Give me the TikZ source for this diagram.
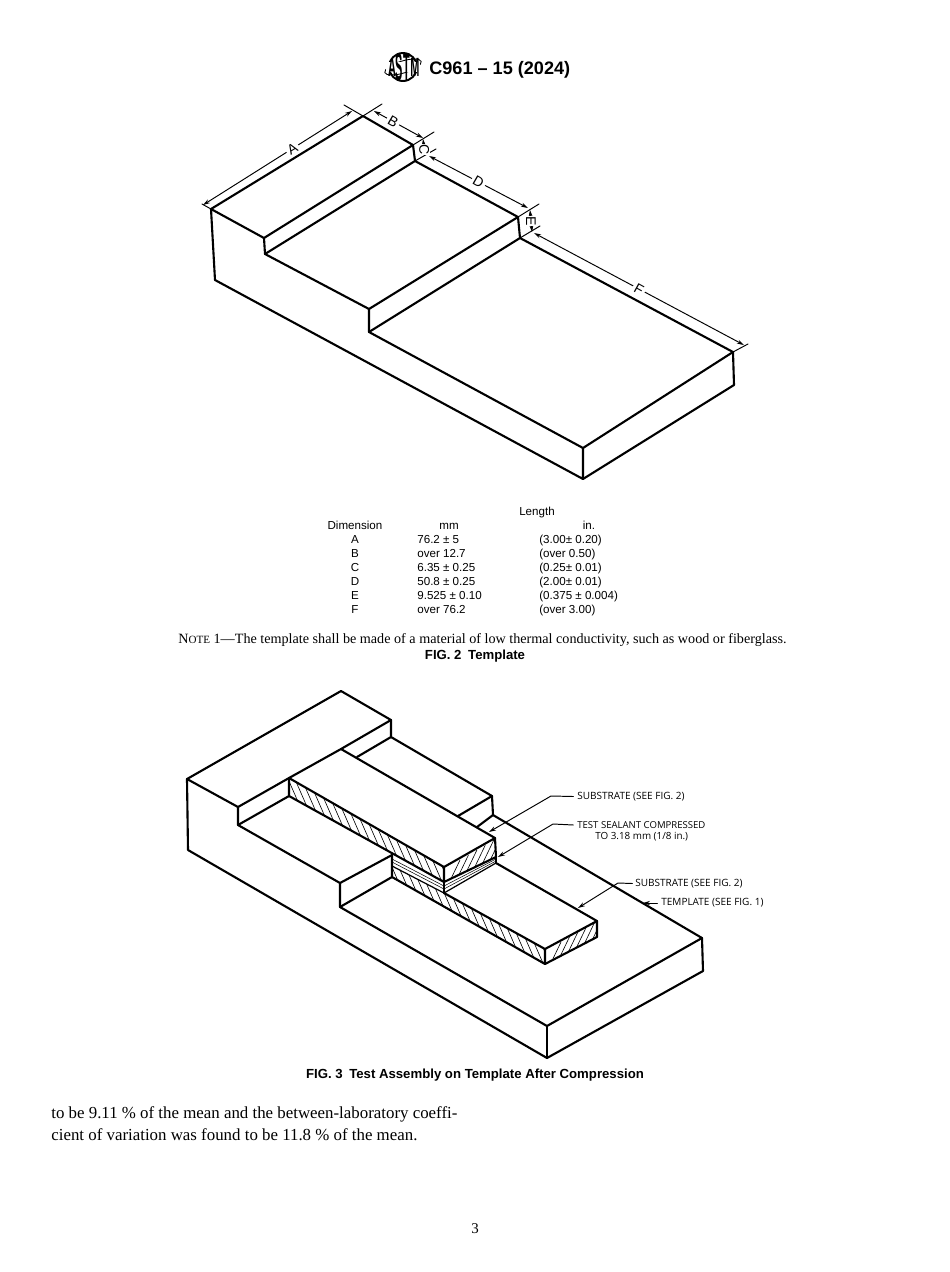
\documentclass[tikz,border=0pt]{standalone}
\usepackage{fontspec}
\setmainfont{Liberation Serif}
\setsansfont{Liberation Sans}
\newfontfamily\leaderfont{Open Sans}
\usetikzlibrary{calc,arrows.meta}
\tikzset{
	edge/.style={line width=1.2pt},
	dim/.style={line width=.55pt},
	tick/.style={line width=.55pt},
	hatch/.style={line width=.35pt},
	dimlabel/.style={fill=white,inner sep=1.2pt,font=\sffamily\fontsize{8}{8}\selectfont},
	cell/.style={inner sep=0pt,text height=5pt,text depth=1.2pt,font=\sffamily\fontsize{6.6}{7}\selectfont},
	leaderlabel/.style={inner sep=0pt,font=\leaderfont\fontsize{5.7}{7}\selectfont},
	caption/.style={inner sep=0pt,font=\sffamily\bfseries\fontsize{7.5}{8}\selectfont},
	body/.style={inner sep=0pt,anchor=west,font=\fontsize{9.6}{10}\selectfont},
}
\begin{document}
\begin{tikzpicture}[>={Stealth[length=4pt,width=2.4pt]},line join=round,line cap=round,x=.02cm,y=-.02cm]
	\useasboundingbox (0,0) rectangle (950,1272);
	\fill[white] (0,0) rectangle (950,1272);
	% header
	\draw[line width=.5pt,rotate around={17:(403,67)}] (403,67) ellipse (19 and 6);
	\draw[line width=1.1pt] (403,67) circle (14);
	\fill[white] (386,62) rectangle (420,72);
	\foreach \lettername/\lx/\ls in {A/392/1.5,S/399.5/2.2,T/407/2.2,M/415/1.5}{
		\node[inner sep=0pt,font=\sffamily\bfseries\fontsize{10}{10}\selectfont,xscale=.62,yscale=\ls] (logo\lettername) at (\lx,67) {\lettername};
	}
	\node[inner sep=0pt,anchor=west,font=\sffamily\bfseries\fontsize{10.3}{12}\selectfont] (header) at (429,69.5) {C961 – 15 (2024)};
	% fig 2
	\coordinate (a1) at (211,209);
	\coordinate (a2) at (363,116);
	\coordinate (b2) at (413,145);
	\coordinate (c2) at (415,161);
	\coordinate (s1) at (264,238);
	\coordinate (s2) at (265,254);
	\coordinate (m1) at (369,309);
	\coordinate (m2) at (369,332);
	\coordinate (d2) at (518,217);
	\coordinate (e2) at (520,238);
	\coordinate (f2) at (733,352);
	\coordinate (f3) at (734,385);
	\coordinate (g1) at (583,448);
	\coordinate (g2) at (583,479);
	\coordinate (h1) at (215,280);
	\draw[edge] (h1)--(a1)--(a2)--(b2)--(c2)--(s2)--(s1)--(a1);
	\draw[edge] (s1)--(b2);
	\draw[edge] (s2)--(m1)--(m2)--(g1)--(g2)--(h1);
	\draw[edge] (m1)--(d2)--(e2)--(m2);
	\draw[edge] (c2)--(d2);
	\draw[edge] (e2)--(f2)--(f3)--(g2);
	\draw[edge] (g1)--(f2);
	\draw[tick] (a1)--(202,204);
	\draw[tick] (344,105)--(a2)--(382,104);
	\draw[tick] (b2)--(434,132);
	\draw[tick] (c2)--(436,149);
	\draw[tick] (d2)--(539,204);
	\draw[tick] (e2)--(540,226);
	\draw[tick] (f2)--(748,344);
	\draw[dim,<->] (203,205)--node[dimlabel,rotate=31,pos=.6]{A}(352,111);
	\draw[dim,<->] (374,111)--node[dimlabel,rotate=-30,pos=.39]{B}(423,138);
	\draw[dim,<->] (423,139)--node[dimlabel,rotate=-90,inner sep=.3pt,pos=.65]{C}(425,155);
	\draw[dim,<->] (429,156)--node[dimlabel,rotate=-30]{D}(528,208);
	\draw[dim,<->] (530,210)--node[dimlabel,rotate=-90,inner sep=.3pt]{E}(532,232);
	\draw[dim,<->] (534,233)--node[dimlabel,rotate=-29]{F}(744,345);
	% table
	\node[cell] (length) at (537,512) {Length};
	\node[cell] (dimension) at (355,526) {Dimension};
	\node[cell] (mm) at (449,526) {mm};
	\node[cell] (in) at (589,526) {in.};
	\foreach \dimname/\mmval/\inval/\y in {A/76.2 ± 5/(3.00± 0.20)/540,B/over 12.7/(over 0.50)/554,C/6.35 ± 0.25/(0.25± 0.01)/568,D/50.8 ± 0.25/(2.00± 0.01)/582,E/9.525 ± 0.10/(0.375 ± 0.004)/596,F/over 76.2/(over 3.00)/610}{
		\node[cell] (row\dimname) at (355,\y) {\dimname};
		\node[cell,anchor=west] (mm\dimname) at (417,\y) {\mmval};
		\node[cell,anchor=west] (in\dimname) at (539,\y) {\inval};
	}
	\node[body,font=\fontsize{8.06}{9}\selectfont] (note) at (178,640) {N\fontsize{6.3}{7}\selectfont OTE\fontsize{8.06}{9}\selectfont{} 1—The template shall be made of a material of low thermal conductivity, such as wood or fiberglass.};
	\node[caption] (figtwo) at (475,656.5) {FIG. 2\enspace Template};
	% fig 3
	\coordinate (t1) at (187,779);
	\coordinate (t2) at (341,691);
	\coordinate (t3) at (391,720);
	\coordinate (t4) at (391,737);
	\coordinate (t5) at (238,807);
	\coordinate (t6) at (238,825);
	\coordinate (t7) at (492,796);
	\coordinate (t8) at (493,815);
	\coordinate (t9) at (340,883);
	\coordinate (t10) at (340,907);
	\coordinate (t11) at (702,938);
	\coordinate (t12) at (703,971);
	\coordinate (t13) at (547,1026);
	\coordinate (t14) at (547,1058);
	\coordinate (t15) at (188,850);
	% upper substrate
	\coordinate (u1) at (289,778);
	\coordinate (u2) at (341,749);
	\coordinate (u3) at (495,838);
	\coordinate (u4) at (444,867);
	\coordinate (u5) at (289,796);
	\coordinate (u6) at (444,882);
	\coordinate (u7) at (496,857);
	\coordinate (v1) at (392,855);
	\coordinate (v2) at (392,866);
	\coordinate (v3) at (444,893);
	\coordinate (v4) at (496,863);
	% lower substrate
	\coordinate (l1) at (392,877);
	\coordinate (l2) at (545,964);
	\coordinate (l3) at (545,949);
	\coordinate (l4) at (597,921);
	\coordinate (l5) at (597,937);
	% hatching
	\begin{scope}
		\clip (u1)--(u4)--(u6)--(u5)--cycle;
		\foreach \i in {0,...,17}{
			\draw[hatch] ($(285,772)+(\i*9,\i*5)$)--++(14,32);
		}
	\end{scope}
	\begin{scope}
		\clip (u4)--(u3)--(u7)--(u6)--cycle;
		\foreach \i in {0,...,6}{
			\draw[hatch] ($(448,885)+(\i*8.4,-\i*4.9)$)--++(12,-25);
		}
	\end{scope}
	\begin{scope}
		\clip (v2)--(v3)--(l3)--(l2)--(l1)--cycle;
		\foreach \i in {0,...,18}{
			\draw[hatch] ($(388,858)+(\i*9,\i*5)$)--++(14,32);
		}
	\end{scope}
	\begin{scope}
		\clip (l3)--(l4)--(l5)--(l2)--cycle;
		\foreach \i in {0,...,6}{
			\draw[hatch] ($(549,967)+(\i*8.4,-\i*4.9)$)--++(12,-25);
		}
	\end{scope}
	% template
	\draw[edge] (t15)--(t1)--(t2)--(t3)--(t4)--(t7)--(t8)--(t11)--(t12)--(t14)--(t15);
	\draw[edge] (t1)--(t5)--(t6)--(t9)--(t10)--(t13)--(t11);
	\draw[edge] (t13)--(t14);
	\draw[edge] (t3)--(u2);
	\draw[edge] (u1)--(t5);
	\draw[edge] (t4)--(357,757);
	\draw[edge] (t7)--(458,816);
	\draw[edge] (t8)--(477,827);
	\draw[edge] (t6)--(u5);
	\draw[edge] (t9)--(v1);
	\draw[edge] (t10)--(l1);
	% substrates
	\draw[edge] (u1)--(u2)--(u3)--(u4)--cycle;
	\draw[edge] (u1)--(u5)--(u6)--(u4);
	\draw[edge] (u3)--(u7)--(u6);
	\draw[edge,line width=.7pt] (v2)--(v3)--(v4);
	\draw[line width=.3pt] ($(v1)+(0,4)$)--($(u6)+(0,4)$)--($(u7)+(0,2)$);
	\draw[line width=.3pt] ($(v1)+(0,7)$)--($(u6)+(0,7)$)--($(u7)+(0,4)$);
	\draw[edge] (u6)--(v3);
	\draw[edge] (v1)--(l1)--(l2)--(l3)--(v3);
	\draw[edge] (l3)--(l4)--(l5)--(l2);
	\draw[edge] (v4)--(l4);
	\draw[edge] (u7)--(v4);
	% labels
	\node[leaderlabel,anchor=west] (subone) at (577,796.5) {SUBSTRATE (SEE FIG. 2)};
	\node[leaderlabel,anchor=west,font=\leaderfont\fontsize{5.45}{7}\selectfont] (sealant) at (577,825) {TEST SEALANT COMPRESSED};
	\node[leaderlabel,anchor=west,font=\leaderfont\fontsize{5.6}{7}\selectfont] (sealanttwo) at (595,837) {TO 3.18 mm (1/8 in.)};
	\node[leaderlabel,anchor=west] (subtwo) at (635,883.5) {SUBSTRATE (SEE FIG. 2)};
	\node[leaderlabel,anchor=west] (template) at (661,903) {TEMPLATE (SEE FIG. 1)};
	\coordinate (subonetip) at (489,832);
	\coordinate (sealanttip) at (498,857);
	\coordinate (subtwotip) at (578,908);
	\coordinate (templatetip) at (643,903);
	\draw[dim,<-] (subonetip)--(551,796)--([xshift=-2]subone.west);
	\draw[dim,<-] (sealanttip)--(553,824)--([xshift=-2]sealant.west);
	\draw[dim,<-] (subtwotip)--(618,883)--([xshift=-1.5]subtwo.west);
	\draw[dim,<-] (templatetip)--([xshift=-2]template.west);
	\node[caption] (figthree) at (475,1075.5) {FIG. 3\enspace Test Assembly on Template After Compression};
	% text
	\node[body] (parone) at (51,1114) {to be 9.11 \% of the mean and the between-laboratory coeffi-};
	\node[body] (partwo) at (51,1135) {cient of variation was found to be 11.8 \% of the mean.};
	\node[inner sep=0pt,font=\fontsize{8.5}{9}\selectfont] (pagenum) at (475,1229) {3};
\end{tikzpicture}
\end{document}
